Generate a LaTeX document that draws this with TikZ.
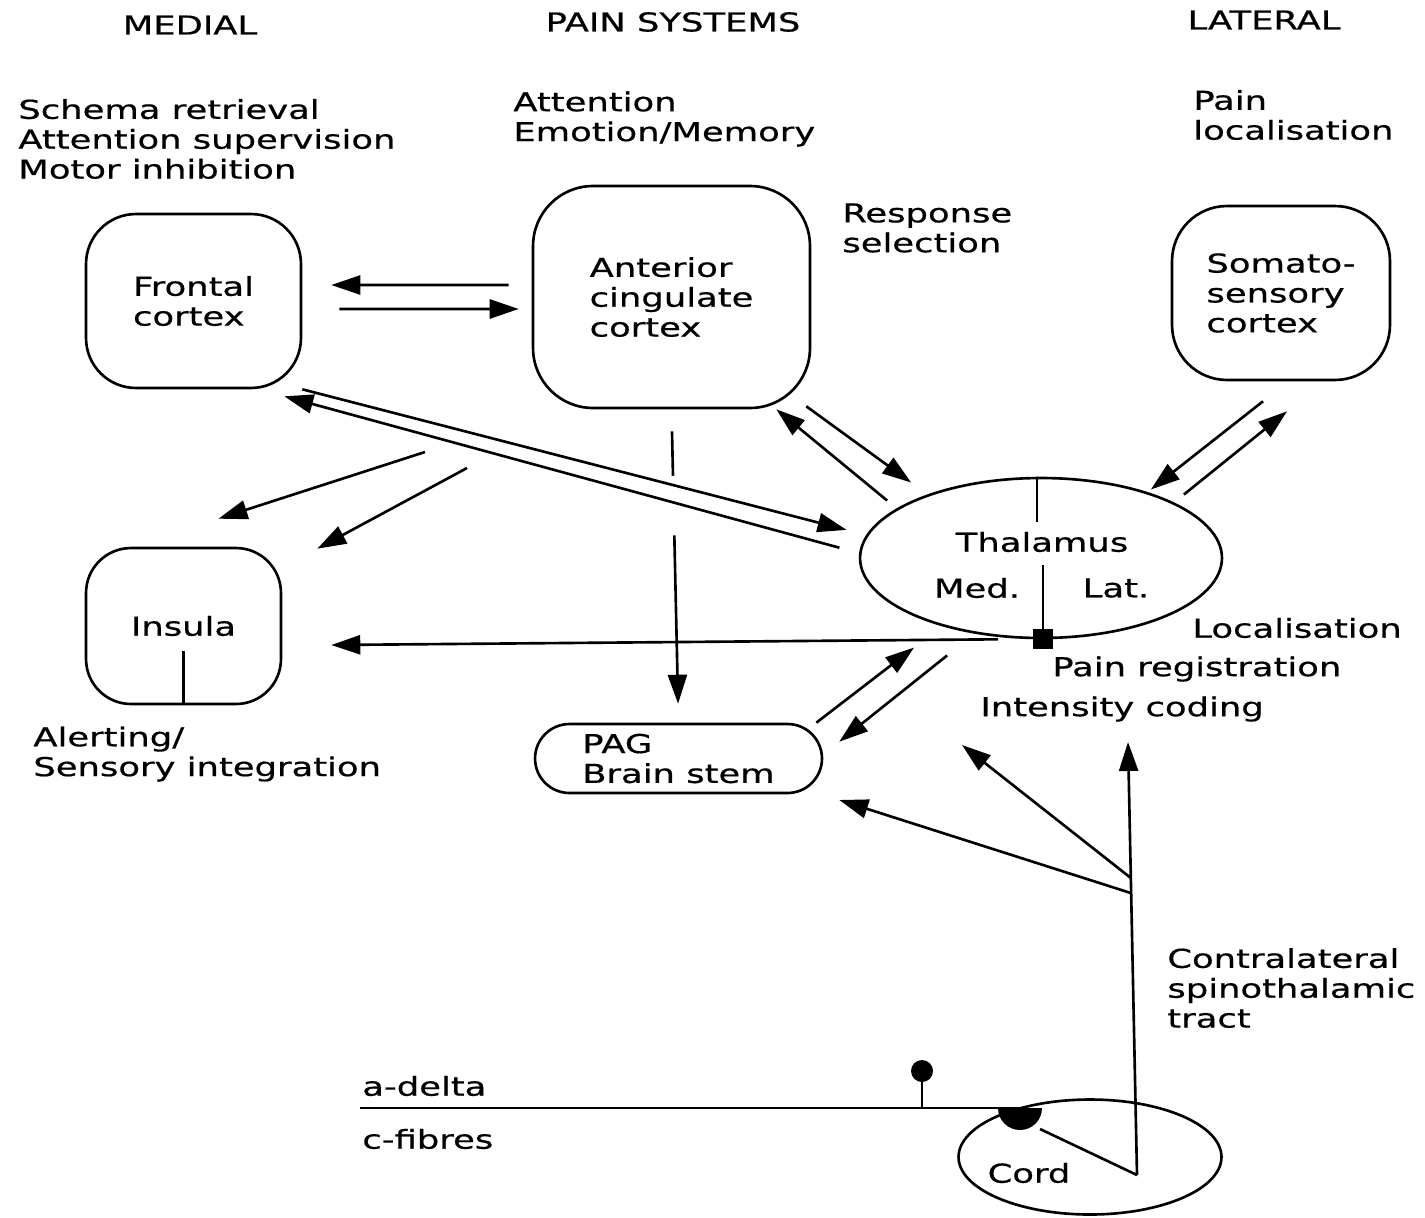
\documentclass[tikz,border=0pt]{standalone}
\usepackage{fontspec}
\setmainfont{DejaVu Sans}[FakeStretch=1.36, FakeBold=0.6]
\usetikzlibrary{arrows.meta,shapes.geometric,calc}

\tikzset{
  txt/.style={font=\fontsize{14.8}{17}\selectfont, align=left, inner sep=0pt},
  area/.style={draw, line width=1.5pt, txt},
  wire/.style={line width=1.5pt},
  arr/.style={line width=1.5pt, arrows={-Triangle[length=5.8mm,width=3.8mm]}}
}

\begin{document}
\begin{tikzpicture}[x=0.02cm, y=-0.02cm]
\useasboundingbox (0,0) rectangle (1425,1217);

% headings
\node[txt] (medial) at (190,25) {MEDIAL};
\node[txt] (painsys) at (673,22) {PAIN SYSTEMS};
\node[txt] (lateral) at (1264,20) {LATERAL};

% functions
\node[txt, anchor=west] (schema) at (18,139) {Schema retrieval\\Attention supervision\\Motor inhibition};
\node[txt, anchor=west] (attn) at (513,119) {Attention\\Emotion/Memory};
\node[txt, anchor=west] (painloc) at (1193,115) {Pain\\localisation};
\node[txt, anchor=west] (response) at (842,228) {Response\\selection};
\node[txt, anchor=west] (localis) at (1192,628) {Localisation};
\node[txt, anchor=west] (painreg) at (1052,669) {Pain registration};
\node[txt, anchor=west] (intens) at (980,709) {Intensity coding};
\node[txt, anchor=west] (alert) at (33,754) {Alerting/\\Sensory integration};
\node[txt, anchor=west] (tract) at (1167,988) {Contralateral\\spinothalamic\\tract};
\node[txt, anchor=west] (adelta) at (362,1086) {a-delta};
\node[txt, anchor=west] (cfib) at (362,1139) {c-fibres};

% areas
\node[area, rounded corners=1cm, minimum width=4.3cm, minimum height=3.48cm] (frontal) at (193.5,301) {Frontal\\cortex};
\node[area, rounded corners=1.2cm, minimum width=5.54cm, minimum height=4.44cm] (acc) at (671.5,297) {Anterior\\cingulate\\cortex};
\node[area, rounded corners=1.1cm, minimum width=4.36cm, minimum height=3.48cm] (somato) at (1281,293) {Somato-\\sensory\\cortex};
\node[area, rounded corners=0.9cm, minimum width=3.9cm, minimum height=3.12cm] (insula) at (183.5,626) {Insula};
\node[area, rounded corners=0.69cm, minimum width=5.74cm, minimum height=1.38cm] (pag) at (678.5,758.5) {PAG\\Brain stem};
\draw[wire] (insula.south) -- ++(0,-54);

% thalamus
\node[draw, ellipse, wire, minimum width=7.24cm, minimum height=3.2cm, inner sep=0pt] (thal) at (1041,558) {};
\node[txt] (thalname) at (1042,542) {Thalamus};
\node[txt] (med) at (977,588) {Med.};
\node[txt] (lat) at (1116,588) {Lat.};
\node[fill, inner sep=0pt, minimum size=0.4cm] (reg) at (1043,639) {};
\draw[wire] ([xshift=-0.08cm]thal.north) -- ++(0,45);
\draw[wire] (reg.center) -- ++(0,-74);

% cortex links
\draw[arr, shorten <=0.46cm, shorten >=0.58cm] ([yshift=0.24cm]acc.west) -- ([yshift=0.32cm]frontal.east);
\draw[arr, shorten <=0.74cm, shorten >=0.26cm] ([yshift=-0.16cm]frontal.east) -- ([yshift=-0.24cm]acc.west);
\draw[arr, shorten >=0.25cm] (frontal.south east) -- ([yshift=0.5cm]thal.west);
\draw[arr, shorten <=0.4cm] ([yshift=0.1cm]thal.west) -- ([xshift=-0.36cm,yshift=-0.14cm]frontal.south east);

% to insula
\coordinate (fork1) at (425,452);
\coordinate (fork2) at (467,468);
\draw[arr] (fork1) -- ([xshift=0.7cm,yshift=0.56cm]insula.north);
\draw[arr] (fork2) -- ([xshift=0.7cm,yshift=-0.04cm]insula.north east);
\draw[arr] ([xshift=-0.86cm]thal.south) -- ([xshift=0.98cm,yshift=-0.38cm]insula.east);

% thalamus links
\draw[arr] ([xshift=-0.5cm]thal.north west) -- ([xshift=-0.7cm]acc.south east);
\draw[arr] ([xshift=-0.1cm,yshift=0.06cm]acc.south east) -- ([xshift=-0.02cm,yshift=0.36cm]thal.north west);
\draw[arr] ([xshift=-0.36cm,yshift=-0.4cm]somato.south) -- ([xshift=-0.38cm,yshift=0.22cm]thal.north east);
\draw[arr] ([xshift=0.28cm,yshift=0.12cm]thal.north east) -- ([xshift=0.12cm,yshift=-0.6cm]somato.south);
\draw[arr] ([xshift=-0.14cm]pag.north east) -- ([xshift=0.04cm,yshift=-0.64cm]thal.south west);
\draw[arr] ([xshift=0.7cm,yshift=-0.8cm]thal.south west) -- ([xshift=0.32cm,yshift=-0.38cm]pag.north east);

% cingulate to PAG, broken where it crosses
\draw[wire, shorten <=0.44cm] (acc.south) -- ($(acc.south)!0.212!(pag.north)$);
\draw[arr, shorten >=0.38cm] ($(acc.south)!0.402!(pag.north)$) -- (pag.north);

% cord and fibres
\node[draw, ellipse, wire, minimum width=5.26cm, minimum height=2.3cm, inner sep=0pt] (cord) at (1090,1157) {};
\node[txt] (cordname) at (1029,1173) {Cord};
\coordinate (dent) at (1020,1108);
\coordinate (fib) at (360,1108);
\draw[wire] (fib) -- (dent);
\fill ([xshift=-0.44cm]dent) arc[start angle=180, end angle=360, radius=0.44cm] -- cycle;
\node[circle, fill, inner sep=0pt, minimum size=0.44cm] (knob) at (922,1071) {};
\draw[wire] (knob) -- (knob |- fib);

% spinothalamic tract
\coordinate (tb) at (1137,1175);
\coordinate (tt) at (1128,742);
\coordinate (ti) at (962,745);
\draw[wire] ([xshift=0.4cm,yshift=-0.42cm]dent) -- (tb);
\draw[arr] (tb) -- (tt);
\draw[arr] ($(tb)!0.686!(tt)$) -- (ti);
\draw[arr] ($(tb)!0.651!(tt)$) -- ([xshift=0.32cm,yshift=-0.83cm]pag.east);
\end{tikzpicture}
\end{document}
